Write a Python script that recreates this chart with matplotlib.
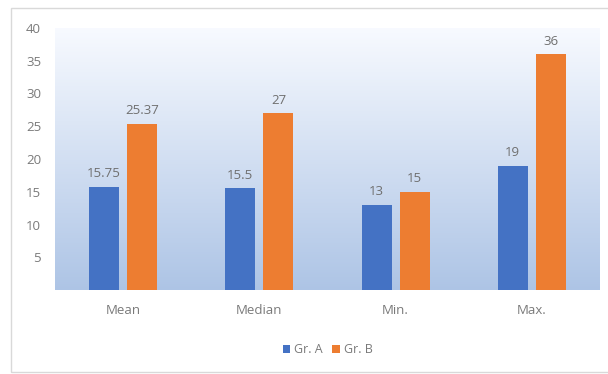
import matplotlib.pyplot as plt
import numpy as np

plt.rcParams["font.family"] = "Open Sans"

categories = ["Mean", "Median", "Min.", "Max."]
group_a = [15.75, 15.5, 13, 19]
group_b = [25.37, 27, 15, 36]
labels_a = ["15.75", "15.5", "13", "19"]
labels_b = ["25.37", "27", "15", "36"]
yticks = [5, 10, 15, 20, 25, 30, 35, 40]

fig = plt.figure(figsize=(6.08, 3.74), dpi=100)
ax = fig.add_axes((55 / 608, 1 - 290 / 374, 545 / 608, 262 / 374))

# gradient background of the plot area
top = np.array([0.97, 0.98, 1.0])
bottom = np.array([0.68, 0.77, 0.90])
t = np.linspace(0, 1, 256)[:, None]
grad = (top * (1 - t) + bottom * t)[:, None, :]
ax.imshow(grad, extent=(0, 1, 0, 1), transform=ax.transAxes, aspect="auto", zorder=0)

x = np.arange(len(categories))
w = 0.22
off = 0.14
ax.bar(x - off, group_a, w, color="#4472C4", label="Gr. A", zorder=2)
ax.bar(x + off, group_b, w, color="#ED7D31", label="Gr. B", zorder=2)

for xi, v, s in zip(x, group_a, labels_a):
    ax.text(xi - off, v + 1.0, s, ha="center", va="bottom", fontsize=9.5, color="#6f6f6f")
for xi, v, s in zip(x, group_b, labels_b):
    ax.text(xi + off, v + 1.0, s, ha="center", va="bottom", fontsize=9.5, color="#6f6f6f")

ax.set_xlim(-0.5, 3.5)
ax.set_ylim(0, 40)
ax.set_yticks(yticks)
ax.set_yticklabels([str(v) for v in yticks])
ax.set_xticks(x)
ax.set_xticklabels(categories)
ax.tick_params(axis="both", length=0, labelsize=9.5, labelcolor="#7a7a7a")
ax.tick_params(axis="y", pad=10)
ax.tick_params(axis="x", pad=10)
for s in ax.spines.values():
    s.set_visible(False)

ax.legend(loc="upper center", bbox_to_anchor=(0.5, -0.16), ncol=2, frameon=False,
          fontsize=9, labelcolor="#7a7a7a", handlelength=0.6, handleheight=0.6,
          handletextpad=0.3, columnspacing=0.8)

# chart border
fig.patches.append(plt.Rectangle((11 / 608, 2 / 374), 1.0, 364 / 374, transform=fig.transFigure,
                                 fill=False, edgecolor="#d9d9d9", linewidth=1))

plt.savefig("out.png", dpi=100)
